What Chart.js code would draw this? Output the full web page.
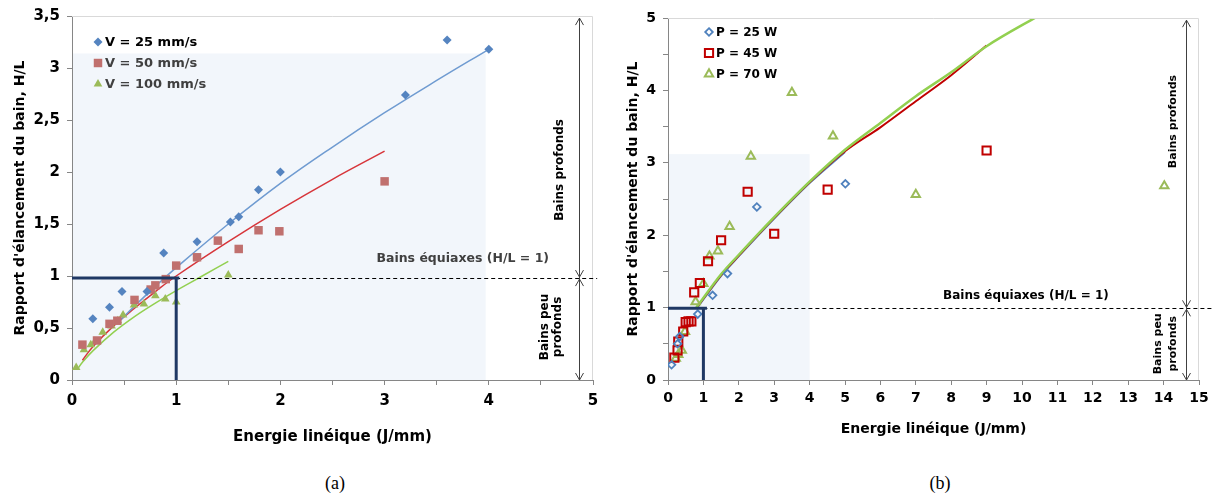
<!DOCTYPE html>
<html><head><meta charset="utf-8">
<script src="https://cdn.jsdelivr.net/npm/chart.js@4/dist/chart.umd.min.js"></script>
<style>
html,body{margin:0;padding:0;background:#fff;width:1217px;height:501px;overflow:hidden;position:relative;}
#ca{position:absolute;left:0;top:0;}
#cb{position:absolute;left:610px;top:0;}
.cap{position:absolute;top:473px;font-family:'Liberation Serif',serif;font-size:18px;color:#000;transform:translateX(-50%);}
</style></head><body>
<canvas id="ca" width="610" height="460"></canvas>
<canvas id="cb" width="607" height="460"></canvas>
<div class="cap" style="left:335px">(a)</div>
<div class="cap" style="left:940px">(b)</div>
<script>
// ---------- Chart (a): measured points ----------
const aLabels = ['V = 25 mm/s', 'V = 50 mm/s', 'V = 100 mm/s'];
const aV25x  = [0.20, 0.36, 0.48, 0.72, 0.88, 1.20, 1.52, 1.60, 1.79, 2.00, 3.20, 3.60, 4.00];
const aV25y  = [0.59, 0.70, 0.85, 0.85, 1.22, 1.33, 1.52, 1.57, 1.83, 2.00, 2.74, 3.27, 3.18];
const aV50x  = [0.10, 0.24, 0.36, 0.435, 0.60, 0.755, 0.80, 0.90, 1.00, 1.20, 1.40, 1.60, 1.79, 1.99, 3.00];
const aV50y  = [0.34, 0.38, 0.54, 0.57, 0.77, 0.87, 0.91, 0.97, 1.10, 1.18, 1.34, 1.26, 1.44, 1.43, 1.91];
const aV100x = [0.04, 0.115, 0.18, 0.22, 0.295, 0.38, 0.44, 0.49, 0.595, 0.69, 0.80, 0.895, 1.00, 1.50];
const aV100y = [0.12, 0.29, 0.34, 0.37, 0.46, 0.52, 0.57, 0.625, 0.72, 0.73, 0.81, 0.78, 0.75, 1.01];
// trend curves (a)
const aFit25x  = [0.45, 0.6, 0.8, 1.0, 1.5, 2.0, 2.5, 3.0, 3.5, 4.0];
const aFit25y  = [0.56, 0.71, 0.90, 1.08, 1.50, 1.89, 2.24, 2.57, 2.88, 3.18];
const aFit50x  = [0.1, 0.2, 0.4, 0.6, 0.8, 1.0, 1.5, 2.0, 2.5, 3.0];
const aFit50y  = [0.19, 0.32, 0.52, 0.69, 0.85, 1.00, 1.33, 1.64, 1.93, 2.20];
const aFit100x = [0.05, 0.1, 0.2, 0.4, 0.6, 0.8, 1.0, 1.25, 1.5];
const aFit100y = [0.10, 0.17, 0.28, 0.46, 0.61, 0.74, 0.86, 1.00, 1.14];
const aXTicks = ['0', '1', '2', '3', '4', '5'];
const aYTicks = ['0', '0,5', '1', '1,5', '2', '2,5', '3', '3,5'];

// ---------- Chart (b): measured points ----------
const bLabels = ['P = 25 W', 'P = 45 W', 'P = 70 W'];
const bP25x = [0.10, 0.27, 0.33, 0.84, 1.26, 1.68, 2.51, 5.01];
const bP25y = [0.21, 0.50, 0.60, 0.91, 1.17, 1.47, 2.39, 2.71];
const bP45x = [0.18, 0.27, 0.29, 0.43, 0.50, 0.58, 0.66, 0.74, 0.90, 1.13, 1.50, 2.25, 3.00, 4.51, 9.00];
const bP45y = [0.31, 0.41, 0.53, 0.67, 0.80, 0.81, 0.81, 1.21, 1.34, 1.64, 1.93, 2.60, 2.02, 2.63, 3.17];
const bP70x = [0.22, 0.29, 0.39, 0.48, 0.78, 1.00, 1.17, 1.41, 1.74, 2.34, 3.50, 4.66, 7.00, 14.02];
const bP70y = [0.30, 0.35, 0.41, 0.67, 1.08, 1.33, 1.71, 1.78, 2.12, 3.09, 3.97, 3.37, 2.56, 2.68];
// trend curves (b)
const bFit25x = [0.8, 1.5, 2, 3, 4, 5];
const bFit25y = [0.98, 1.44, 1.71, 2.23, 2.72, 3.15];
const bFit45x = [0.8, 1.5, 2, 3, 4, 5, 6, 7, 8, 9];
const bFit45y = [0.99, 1.45, 1.72, 2.24, 2.73, 3.16, 3.49, 3.85, 4.21, 4.62];
const bFit70x = [0.8, 1.5, 2, 3, 4, 5, 6, 7, 8, 9, 10.5];
const bFit70y = [1.00, 1.46, 1.73, 2.25, 2.74, 3.18, 3.55, 3.92, 4.25, 4.61, 5.04];
const bXTicks = ['0','1','2','3','4','5','6','7','8','9','10','11','12','13','14','15'];
const bYTicks = ['0', '1', '2', '3', '4', '5'];

// reference levels / zones (data units)
const aRef = 0.98, bRef = 0.99;
const aZone = [3.97, 3.14], bZone = [4.0, 3.12];

const FONT = 'DejaVu Sans';
Chart.defaults.font.family = FONT;
Chart.defaults.color = '#000';

const pts = (xs, ys) => xs.map((x, i) => ({x, y: ys[i]}));

function marker(ctx, style, x, y, r, fill, stroke, lw) {
  ctx.save();
  ctx.beginPath();
  if (style === 'rectRot') {
    ctx.moveTo(x, y - r); ctx.lineTo(x + r, y); ctx.lineTo(x, y + r); ctx.lineTo(x - r, y);
  } else if (style === 'rect') {
    const s = r * Math.SQRT1_2; ctx.rect(x - s, y - s, 2 * s, 2 * s);
  } else {
    const h = r * Math.sqrt(3) / 2;
    ctx.moveTo(x, y - r); ctx.lineTo(x + h, y + r / 2); ctx.lineTo(x - h, y + r / 2);
  }
  ctx.closePath();
  if (fill) { ctx.fillStyle = fill; ctx.fill(); }
  if (stroke) { ctx.strokeStyle = stroke; ctx.lineWidth = lw; ctx.stroke(); }
  ctx.restore();
}

function arrowHead(ctx, x, y, dir) {
  ctx.beginPath();
  ctx.moveTo(x - 4, y + dir * 7); ctx.lineTo(x, y); ctx.lineTo(x + 4, y + dir * 7);
  ctx.stroke();
}

const deco = {
  id: 'deco',
  beforeDatasetsDraw(chart, args, o) {
    const {ctx} = chart, xs = chart.scales.x, ys = chart.scales.y;
    ctx.save();
    ctx.fillStyle = '#F2F6FB';
    const x0 = xs.getPixelForValue(0), x1 = xs.getPixelForValue(o.zone[0]);
    const y0 = ys.getPixelForValue(0), y1 = ys.getPixelForValue(o.zone[1]);
    ctx.fillRect(x0 + 1, y1, x1 - x0 - 1, y0 - y1);
    ctx.restore();
  },
  afterDatasetsDraw(chart, args, o) {
    const {ctx, chartArea: ca} = chart, xs = chart.scales.x, ys = chart.scales.y;
    const X = v => xs.getPixelForValue(v), Y = v => ys.getPixelForValue(v);
    ctx.save();
    // plot border (top / right)
    ctx.strokeStyle = '#D9D9D9'; ctx.lineWidth = 1;
    ctx.beginPath();
    ctx.moveTo(ca.left, ca.top + 0.5); ctx.lineTo(ca.right - 0.5, ca.top + 0.5); ctx.lineTo(ca.right - 0.5, ca.bottom);
    ctx.stroke();
    // dashed reference line
    ctx.strokeStyle = '#000'; ctx.setLineDash([4, 3]);
    ctx.beginPath();
    ctx.moveTo(X(1), Math.round(Y(o.ref)) + 0.5); ctx.lineTo(X(o.dashEnd), Math.round(Y(o.ref)) + 0.5);
    ctx.stroke();
    ctx.setLineDash([]);
    // navy lines
    ctx.strokeStyle = '#1F3864'; ctx.lineWidth = 3;
    ctx.beginPath();
    ctx.moveTo(X(0), Y(o.ref)); ctx.lineTo(X(o.navyEnd), Y(o.ref));
    ctx.moveTo(X(1), Y(o.ref)); ctx.lineTo(X(1), Y(0));
    ctx.stroke();
    // double arrows
    ctx.strokeStyle = '#404040'; ctx.lineWidth = 1;
    const ax = Math.round(X(o.arrowX)) + 0.5, yt = Y(o.arrowTop), ym = Y(o.ref), yb = Y(0);
    ctx.beginPath(); ctx.moveTo(ax, yt); ctx.lineTo(ax, yb); ctx.stroke();
    arrowHead(ctx, ax, yt, 1); arrowHead(ctx, ax, ym - 1, -1);
    arrowHead(ctx, ax, ym + 1, 1); arrowHead(ctx, ax, yb, -1);
    // texts
    ctx.fillStyle = o.textColor;
    ctx.font = 'bold ' + o.eqSize + 'px ' + FONT;
    ctx.textAlign = 'center'; ctx.textBaseline = 'middle';
    ctx.fillText('Bains équiaxes (H/L = 1)', X(o.eqPos[0]), Y(o.eqPos[1]));
    ctx.fillStyle = '#000';
    ctx.font = 'bold ' + o.zoneSize + 'px ' + FONT;
    ctx.save();
    ctx.translate(X(o.deepPos[0]), Y(o.deepPos[1])); ctx.rotate(-Math.PI / 2);
    ctx.fillText('Bains profonds', 0, 0);
    ctx.restore();
    ctx.save();
    ctx.translate(X(o.shallowPos[0]), Y(o.shallowPos[1])); ctx.rotate(-Math.PI / 2);
    ctx.fillText('Bains peu', 0, -o.lineGap / 2);
    ctx.fillText('profonds', 0, o.lineGap / 2);
    ctx.restore();
    // legend
    o.legend.forEach((it, i) => {
      const ly = ca.top + o.legTop + i * o.legGap;
      const lx = ca.left + o.legLeft;
      marker(ctx, it.style, lx, ly, it.r, it.fill, it.stroke, it.lw);
      ctx.font = 'bold ' + o.legSize + 'px ' + FONT;
      ctx.textAlign = 'left'; ctx.textBaseline = 'middle';
      ctx.fillStyle = it.color;
      ctx.fillText(it.text, lx + 7, ly + 1);
    });
    ctx.restore();
  }
};

function axisBase(size) {
  return {
    grid: {display: true, drawOnChartArea: false, drawTicks: true, tickLength: 5, color: '#868686'},
    border: {color: '#868686', width: 1},
    ticks: {font: {size, weight: 'bold'}, color: '#000', autoSkip: false, maxRotation: 0}
  };
}
const near = (v, k) => Math.abs(v - k) < 1e-6;

// ---------------- Chart (a) ----------------
const axA = axisBase(15), ayA = axisBase(15);
new Chart(document.getElementById('ca'), {
  type: 'scatter',
  data: {datasets: [
    {label: aLabels[0], data: pts(aV25x, aV25y), pointStyle: 'rectRot', pointRadius: 4.5, backgroundColor: '#5584C0', borderWidth: 0, order: 0},
    {label: aLabels[1], data: pts(aV50x, aV50y), pointStyle: 'rect', pointRadius: 6, backgroundColor: '#C0706E', borderWidth: 0, order: 0},
    {label: aLabels[2], data: pts(aV100x, aV100y), pointStyle: 'triangle', pointRadius: 5, backgroundColor: '#9BBB59', borderWidth: 0, order: 0},
    {label: 'fit25', data: pts(aFit25x, aFit25y), showLine: true, pointRadius: 0, borderColor: '#6F9BD1', borderWidth: 1.5, tension: 0.4, order: 1},
    {label: 'fit50', data: pts(aFit50x, aFit50y), showLine: true, pointRadius: 0, borderColor: '#D7353A', borderWidth: 1.5, tension: 0.4, order: 2},
    {label: 'fit100', data: pts(aFit100x, aFit100y), showLine: true, pointRadius: 0, borderColor: '#92D050', borderWidth: 1.5, tension: 0.4, order: 3}
  ]},
  options: {
    responsive: false, animation: false, events: [],
    layout: {padding: {left: 0, top: 16, right: 17, bottom: 0}},
    plugins: {legend: {display: false}, tooltip: {enabled: false},
      deco: {zone: aZone, ref: aRef, dashEnd: 5.04, navyEnd: 1.03, arrowX: 4.866, arrowTop: 3.48,
        textColor: '#404040', eqSize: 12.5, eqPos: [3.75, 1.165], zoneSize: 12,
        deepPos: [4.68, 2.02], shallowPos: [4.6, 0.51], lineGap: 13, legSize: 13, legTop: 26, legLeft: 26, legGap: 21,
        legend: [
          {text: aLabels[0], style: 'rectRot', r: 4.5, fill: '#5584C0', color: '#000'},
          {text: aLabels[1], style: 'rect', r: 6, fill: '#C0706E', color: '#404040'},
          {text: aLabels[2], style: 'triangle', r: 5, fill: '#9BBB59', color: '#404040'}
        ]}},
    scales: {
      x: Object.assign(axA, {type: 'linear', min: 0, max: 5,
        ticks: Object.assign(axA.ticks, {stepSize: 0.5, padding: 7,
          callback: v => { const k = Math.round(v); return near(v, k) ? aXTicks[k] : ''; }}),
        title: {display: true, text: 'Energie linéique (J/mm)', font: {size: 15, weight: 'bold'}, color: '#000', padding: {top: 0, bottom: 14}},
        afterFit: s => { s.height = 80; }}),
      y: Object.assign(ayA, {type: 'linear', min: 0, max: 3.5,
        ticks: Object.assign(ayA.ticks, {stepSize: 0.5, padding: 7,
          callback: v => { const k = Math.round(v * 2); return near(v * 2, k) ? aYTicks[k] : ''; }}),
        title: {display: true, text: "Rapport d'élancement du bain, H/L", font: {size: 14, weight: 'bold'}, color: '#000', padding: {top: 12, bottom: 0}},
        afterFit: s => { s.width = 72; }})
    }
  },
  plugins: [deco]
});

// ---------------- Chart (b) ----------------
const axB = axisBase(14), ayB = axisBase(14);
new Chart(document.getElementById('cb'), {
  type: 'scatter',
  data: {datasets: [
    {label: bLabels[0], data: pts(bP25x, bP25y), pointStyle: 'rectRot', pointRadius: 3.8, backgroundColor: 'rgba(255,255,255,0)', borderColor: '#4F81BD', borderWidth: 1.8, order: 0},
    {label: bLabels[1], data: pts(bP45x, bP45y), pointStyle: 'rect', pointRadius: 5.8, backgroundColor: 'rgba(255,255,255,0)', borderColor: '#C00000', borderWidth: 2, order: 0},
    {label: bLabels[2], data: pts(bP70x, bP70y), pointStyle: 'triangle', pointRadius: 4.8, backgroundColor: 'rgba(255,255,255,0)', borderColor: '#9BBB59', borderWidth: 2, order: 0},
    {label: 'fit25', data: pts(bFit25x, bFit25y), showLine: true, pointRadius: 0, borderColor: '#4F81BD', borderWidth: 2, cubicInterpolationMode: 'monotone', order: 3},
    {label: 'fit45', data: pts(bFit45x, bFit45y), showLine: true, pointRadius: 0, borderColor: '#C00000', borderWidth: 2, cubicInterpolationMode: 'monotone', order: 2},
    {label: 'fit70', data: pts(bFit70x, bFit70y), showLine: true, pointRadius: 0, borderColor: '#92D050', borderWidth: 2.5, cubicInterpolationMode: 'monotone', order: 1}
  ]},
  options: {
    responsive: false, animation: false, events: [],
    layout: {padding: {left: 0, top: 18, right: 18, bottom: 0}},
    plugins: {legend: {display: false}, tooltip: {enabled: false},
      deco: {zone: bZone, ref: bRef, dashEnd: 15.4, navyEnd: 1.1, arrowX: 14.63, arrowTop: 4.97,
        textColor: '#000', eqSize: 12, eqPos: [10.11, 1.166], zoneSize: 11,
        deepPos: [14.27, 3.57], shallowPos: [14.05, 0.5], lineGap: 15, legSize: 12, legTop: 14, legLeft: 41, legGap: 21,
        legend: [
          {text: bLabels[0], style: 'rectRot', r: 3.8, fill: '#ffffff', stroke: '#4F81BD', lw: 1.8, color: '#000'},
          {text: bLabels[1], style: 'rect', r: 5.8, fill: '#ffffff', stroke: '#C00000', lw: 2, color: '#000'},
          {text: bLabels[2], style: 'triangle', r: 4.8, fill: '#ffffff', stroke: '#9BBB59', lw: 2, color: '#000'}
        ]}},
    scales: {
      x: Object.assign(axB, {type: 'linear', min: 0, max: 15,
        ticks: Object.assign(axB.ticks, {stepSize: 1, padding: 5,
          callback: v => { const k = Math.round(v); return near(v, k) ? bXTicks[k] : ''; }}),
        title: {display: true, text: 'Energie linéique (J/mm)', font: {size: 14, weight: 'bold'}, color: '#000', padding: {top: 0, bottom: 22}},
        afterFit: s => { s.height = 80; }}),
      y: Object.assign(ayB, {type: 'linear', min: 0, max: 5,
        ticks: Object.assign(ayB.ticks, {stepSize: 0.5, padding: 7,
          callback: v => { const k = Math.round(v); return near(v, k) ? bYTicks[k] : ''; }}),
        title: {display: true, text: "Rapport d'élancement du bain, H/L", font: {size: 14, weight: 'bold'}, color: '#000', padding: {top: 15, bottom: 0}},
        afterFit: s => { s.width = 58; }})
    }
  },
  plugins: [deco]
});
</script>
</body></html>
